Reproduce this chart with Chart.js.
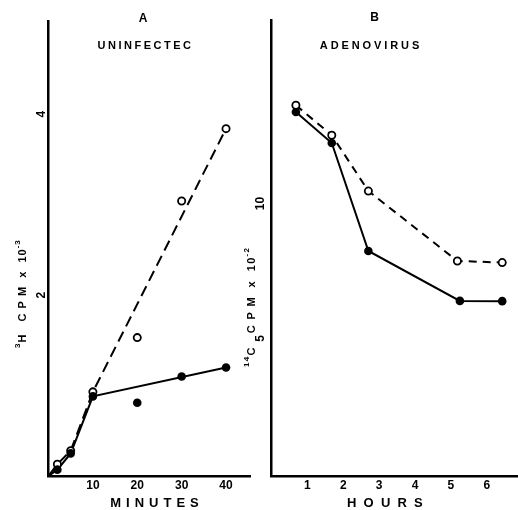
<!DOCTYPE html>
<html>
<head>
<meta charset="utf-8">
<script src="https://cdn.jsdelivr.net/npm/chart.js@4.4.1/dist/chart.umd.min.js"></script>
<style>
  html, body { margin: 0; padding: 0; background: #fff; }
  #wrap { position: relative; width: 518px; height: 510px; }
  .panel { position: absolute; top: 0; height: 510px; }
  #panelA { left: 0; width: 252px; }
  #panelB { left: 240px; width: 278px; }
</style>
</head>
<body>
<div id="wrap">
  <div class="panel" id="panelA"><canvas id="chartA"></canvas></div>
  <div class="panel" id="panelB"><canvas id="chartB"></canvas></div>
</div>
<script>
// Panel A - uninfected, minutes (3H counts x 10^-3)
const minutesOpen = [2, 5, 10, 20, 30, 40];
const uninfectedOpen = [0.13, 0.28, 0.93, 1.53, 3.04, 3.84];
const minutesFilled = [2, 5, 10, 20, 30, 40];
const uninfectedFilled = [0.07, 0.25, 0.88, 0.81, 1.10, 1.20];
// hand drawn lines through panel A
const lineOpenMinutes = [0, 2, 5, 10, 40];
const lineOpenValues = [0, 0.13, 0.28, 0.93, 3.84];
const lineFilledMinutes = [0, 2, 5, 10, 40];
const lineFilledValues = [0, 0.07, 0.25, 0.88, 1.20];
const minuteTicks = [10, 20, 30, 40];
const countTicksA = [2, 4];

// Panel B - adenovirus, hours (14C counts x 10^-2)
const hoursOpen = [0.68, 1.68, 2.7, 5.18, 6.43];
const adenoOpen = [13.64, 12.53, 10.46, 7.87, 7.81];
const hoursFilled = [0.68, 1.68, 2.7, 5.25, 6.43];
const adenoFilled = [13.39, 12.24, 8.24, 6.39, 6.38];
const hourTicks = [1, 2, 3, 4, 5, 6];
const countTicksB = [5, 10];

const FONT = '"Liberation Sans", "DejaVu Sans", sans-serif';

const pts = (xs, ys) => xs.map((x, i) => ({ x: x, y: ys[i] }));

const openPoints = (data) => ({
  data: data, showLine: false, pointRadius: 3.6, pointBorderWidth: 1.8,
  pointBackgroundColor: '#fff', pointBorderColor: '#000'
});
const filledPoints = (data) => ({
  data: data, showLine: false, pointRadius: 4.3, pointBorderWidth: 0,
  pointBackgroundColor: '#000', pointBorderColor: '#000'
});
const drawnLine = (data, dash) => ({
  data: data, showLine: true, pointRadius: 0, borderWidth: 2,
  borderColor: '#000', borderDash: dash, tension: 0
});

// free text: panel letters, captions, axis titles (parts drawn one after another)
const panelText = {
  id: 'panelText',
  afterDraw(chart, args, opts) {
    const ctx = chart.ctx;
    opts.items.forEach(it => {
      ctx.save();
      ctx.fillStyle = '#000';
      ctx.textBaseline = 'middle';
      ctx.translate(it.x, it.y);
      if (it.rotate) ctx.rotate(-Math.PI / 2);
      const parts = it.parts || [{ text: it.text, size: it.size }];
      ctx.textAlign = it.parts ? 'left' : 'center';
      let cursor = 0;
      parts.forEach(p => {
        ctx.font = 'bold ' + p.size + 'px ' + FONT;
        ctx.letterSpacing = (p.spacing || it.spacing || 0) + 'px';
        ctx.fillText(p.text, cursor, p.dy || 0);
        cursor += ctx.measureText(p.text).width;
      });
      ctx.restore();
    });
  }
};

function axes(xMin, xMax, xTicks, yMin, yMax, yTicks, yWidth, yPad) {
  const tickFont = { family: FONT, size: 12, weight: 'bold' };
  return {
    x: {
      type: 'linear', min: xMin, max: xMax,
      border: { color: '#000', width: 2.5 },
      grid: { display: false, drawTicks: false },
      ticks: { color: '#000', font: tickFont, padding: 2, maxRotation: 0, autoSkip: false },
      afterBuildTicks: s => { s.ticks = xTicks.map(v => ({ value: v })); },
      afterFit: s => { s.height = 34; s.paddingLeft = 0; s.paddingRight = 0; }
    },
    y: {
      type: 'linear', min: yMin, max: yMax,
      border: { color: '#000', width: 2.5 },
      grid: { display: false, drawTicks: false },
      ticks: { color: '#000', font: tickFont, minRotation: 90, maxRotation: 90,
               crossAlign: 'center', padding: yPad, autoSkip: false },
      afterBuildTicks: s => { s.ticks = yTicks.map(v => ({ value: v })); },
      afterFit: s => { s.width = yWidth; s.paddingTop = 0; s.paddingBottom = 0; }
    }
  };
}

new Chart(document.getElementById('chartA'), {
  type: 'scatter',
  data: {
    datasets: [
      filledPoints(pts(minutesFilled, uninfectedFilled)),
      openPoints(pts(minutesOpen, uninfectedOpen)),
      drawnLine(pts(lineFilledMinutes, lineFilledValues), []),
      drawnLine(pts(lineOpenMinutes, lineOpenValues), [11, 6])
    ]
  },
  options: {
    responsive: true, maintainAspectRatio: false, animation: false,
    layout: { autoPadding: false, padding: { top: 21, right: 2, left: 0, bottom: 0 } },
    scales: axes(0, 45.4, minuteTicks, 0, 5.03, countTicksA, 48.5, 3.5),
    plugins: {
      legend: { display: false }, tooltip: { enabled: false },
      panelText: { items: [
        { text: 'A', x: 143, y: 18.5, size: 12 },
        { text: 'UNINFECTEC', x: 145.5, y: 46, size: 11, spacing: 2.5 },
        { text: 'MINUTES', x: 157, y: 503, size: 13, spacing: 5 },
        { x: 23, y: 348, rotate: true, spacing: 1, parts: [
          { text: '3', size: 8, dy: -5 },
          { text: 'H   C P M  x  10', size: 11 },
          { text: '-3', size: 8, dy: -5 }
        ] }
      ] }
    }
  },
  plugins: [panelText]
});

new Chart(document.getElementById('chartB'), {
  type: 'scatter',
  data: {
    datasets: [
      openPoints(pts(hoursOpen, adenoOpen)),
      filledPoints(pts(hoursFilled, adenoFilled)),
      drawnLine(pts(hoursFilled, adenoFilled), []),
      drawnLine(pts(hoursOpen, adenoOpen), [8, 6])
    ]
  },
  options: {
    responsive: true, maintainAspectRatio: false, animation: false,
    layout: { autoPadding: false, padding: { top: 20, right: 0, left: 0, bottom: 0 } },
    scales: axes(0, 6.87, hourTicks, -0.1, 16.8, countTicksB, 31.5, 4.5),
    plugins: {
      legend: { display: false }, tooltip: { enabled: false },
      panelText: { items: [
        { text: 'B', x: 134.5, y: 17.5, size: 12 },
        { text: 'ADENOVIRUS', x: 131, y: 46, size: 11, spacing: 2.9 },
        { text: 'HOURS', x: 148.5, y: 503, size: 13, spacing: 7.2 },
        { x: 12, y: 367, rotate: true, spacing: 1.3, parts: [
          { text: '14', size: 8, dy: -5 },
          { text: 'C   C P M  x  10', size: 11 },
          { text: '-2', size: 8, dy: -5 }
        ] }
      ] }
    }
  },
  plugins: [panelText]
});
</script>
</body>
</html>
